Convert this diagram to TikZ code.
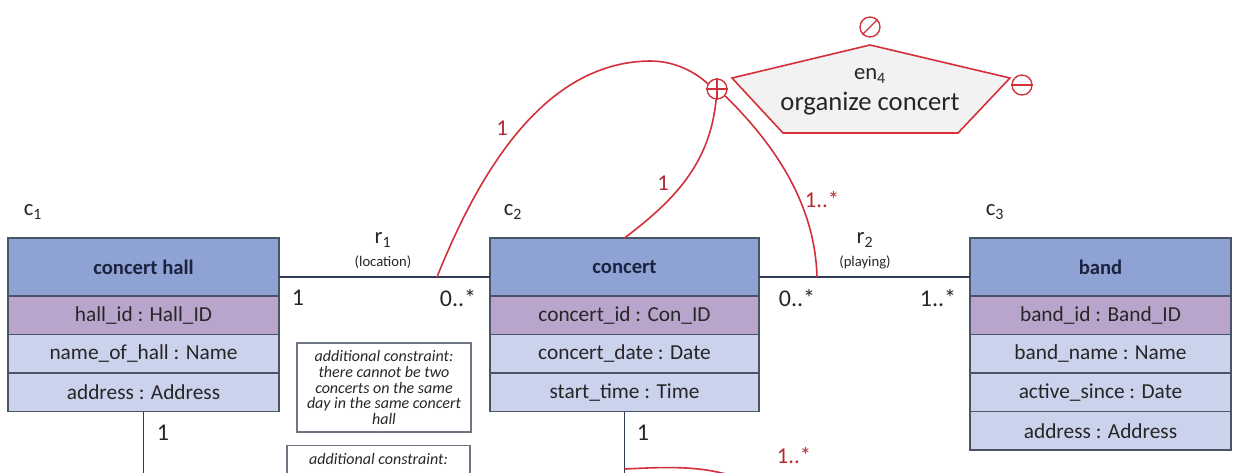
\documentclass[tikz,border=0pt]{standalone}
\usepackage{fontspec}
\setmainfont{Carlito}
\usetikzlibrary{calc}

\definecolor{hdrfill}{HTML}{8FA2D4}
\definecolor{keyfill}{HTML}{B9A5CB}
\definecolor{attrfill}{HTML}{CBD2EC}
\definecolor{boxline}{HTML}{4A5466}
\definecolor{hdrtext}{HTML}{1C2340}
\definecolor{assoc}{HTML}{2F3C58}
\definecolor{relred}{HTML}{D3303A}
\definecolor{relfill}{HTML}{F2F2F2}
\definecolor{inktext}{HTML}{262626}

\begin{document}
\begin{tikzpicture}[x=0.75pt,y=-0.75pt,
  cell/.style={draw=boxline, line width=1.1pt, outer sep=0pt, inner sep=0pt,
    text=inktext, font=\fontsize{16}{18}\selectfont},
  hdr/.style={cell, fill=hdrfill, minimum height=43.5pt, text=hdrtext,
    font=\fontsize{15.5}{18}\selectfont\bfseries},
  keyrow/.style={cell, fill=keyfill, minimum height=28.875pt},
  attrrow/.style={cell, fill=attrfill, minimum height=28.875pt},
  clabel/.style={text=inktext, font=\fontsize{17}{19}\selectfont},
  mult/.style={text=inktext, font=\fontsize{18}{20}\selectfont},
  rname/.style={text=inktext, font=\fontsize{17}{19}\selectfont},
  rnote/.style={text=inktext, font=\fontsize{11}{12}\selectfont},
  assocline/.style={draw=assoc, line width=1.2pt},
  redline/.style={draw=relred, line width=1.2pt},
  redmult/.style={text=relred!85!black, inner sep=1pt, font=\fontsize{17}{19}\selectfont},
  cbox/.style={draw=boxline!80, line width=1.1pt, align=center, inner sep=2pt,
    text=inktext, font=\fontsize{12}{11.8}\selectfont\itshape},
  sym/.style={circle, draw=relred, line width=1pt, minimum size=15pt,
    inner sep=0pt, fill=white},
]
\useasboundingbox (0,0) rectangle (1233,472);

% ---------- classes ----------
\node[hdr, minimum width=203.25pt] (h1) at (143.5,267) {concert hall};
\node[keyrow, minimum width=203.25pt, anchor=north] (a11) at (h1.south) {hall\_id : Hall\_ID};
\node[attrrow, minimum width=203.25pt, anchor=north] (a12) at (a11.south) {name\_of\_hall : Name};
\node[attrrow, minimum width=203.25pt, anchor=north] (a13) at (a12.south) {address : Address};

\node[hdr, minimum width=201.75pt] (h2) at (624.5,267) {concert};
\node[keyrow, minimum width=201.75pt, anchor=north] (a21) at (h2.south) {concert\_id : Con\_ID};
\node[attrrow, minimum width=201.75pt, anchor=north] (a22) at (a21.south) {concert\_date : Date};
\node[attrrow, minimum width=201.75pt, anchor=north] (a23) at (a22.south) {start\_time : Time};

\node[hdr, minimum width=195.75pt] (h3) at (1100.5,267) {band};
\node[keyrow, minimum width=195.75pt, anchor=north] (a31) at (h3.south) {band\_id : Band\_ID};
\node[attrrow, minimum width=195.75pt, anchor=north] (a32) at (a31.south) {band\_name : Name};
\node[attrrow, minimum width=195.75pt, anchor=north] (a33) at (a32.south) {active\_since : Date};
\node[attrrow, minimum width=195.75pt, anchor=north] (a34) at (a33.south) {address : Address};

\node[clabel] (c1) at (33,212) {c\textsubscript{1}};
\node[clabel] (c2) at (513,212) {c\textsubscript{2}};
\node[clabel] (c3) at (995,212) {c\textsubscript{3}};

% ---------- associations ----------
\draw[assocline] ([yshift=-7.5pt]h1.east) -- ([yshift=-7.5pt]h2.west);
\draw[assocline] ([yshift=-7.5pt]h2.east) -- ([yshift=-7.5pt]h3.west);
\coordinate (c1down) at (143.5,480);
\coordinate (c2down) at (624.5,480);
\draw[assocline] (a13.south) -- (c1down);
\draw[assocline] (a23.south) -- (c2down);

\node[rname] (r1) at (383,240) {r\textsubscript{1}};
\node[rnote] (r1n) at (383,262) {(location)};
\node[rname] (r2) at (865,240) {r\textsubscript{2}};
\node[rnote] (r2n) at (865,262) {(playing)};

\node[mult] (m1) at (298,298) {1};
\node[mult] (m2) at (458,298) {0..*};
\node[mult] (m3) at (797,298) {0..*};
\node[mult] (m4) at (938,298) {1..*};
\node[mult] (m5) at (163,433) {1};
\node[mult] (m6) at (643,433) {1};

% ---------- constraint notes ----------
\node[cbox, minimum width=130.5pt, minimum height=66.75pt]
  (k1) at (384,387.5) {additional constraint:\\ there cannot be two\\ concerts on the same\\ day in the same concert\\ hall};
\node[cbox, minimum width=137.25pt, anchor=north, inner ysep=6pt]
  (k2) at (378.5,445) {additional constraint:\\ \strut\\ \strut\\ \strut};

% ---------- relationship en4 ----------
\draw[redline, fill=relfill] (870,45) -- (1010,78) -- (958,133) -- (783,133) -- (732,78) -- cycle;
\node[text=inktext, font=\fontsize{17}{19}\selectfont] (en) at (870,76) {en\textsubscript{4}};
\node[text=inktext, font=\fontsize{20}{22}\selectfont] (enname) at (870,104) {organize concert};

\node[sym] (plus) at (717,89) {};
\draw[redline, line width=0.9pt] (plus.north) -- (plus.south) (plus.west) -- (plus.east);
\node[sym] (slash) at (870,27) {};
\draw[redline, line width=0.9pt] (slash.north east) -- (slash.south west);
\node[sym] (minus) at (1022,85) {};
\draw[redline, line width=0.9pt] (minus.west) -- (minus.east);

% ---------- participation arcs ----------
\coordinate (r1m) at (437,277);
\coordinate (r2m) at (817,277);
\draw[redline] (r1m) .. controls (480,170) and (545,62) .. (650,61)
  .. controls (675,61) and (695,72) .. (plus.150);
\draw[redline] (plus.265) .. controls (710,165) and (672,202) .. (h2.north);
\draw[redline] (plus.-40) .. controls (770,140) and (815,200) .. (r2m);
\coordinate (lowend) at (740,478);
\draw[redline] ($(a23.south)!0.84!(c2down)$) .. controls (680,466) and (705,467) .. (lowend);

\node[redmult] (p1) at (502,128) {1};
\node[redmult] (p2) at (663,183) {1};
\node[redmult] (p3) at (822,200) {1..*};
\node[redmult] (p4) at (794,456) {1..*};
\end{tikzpicture}
\end{document}
